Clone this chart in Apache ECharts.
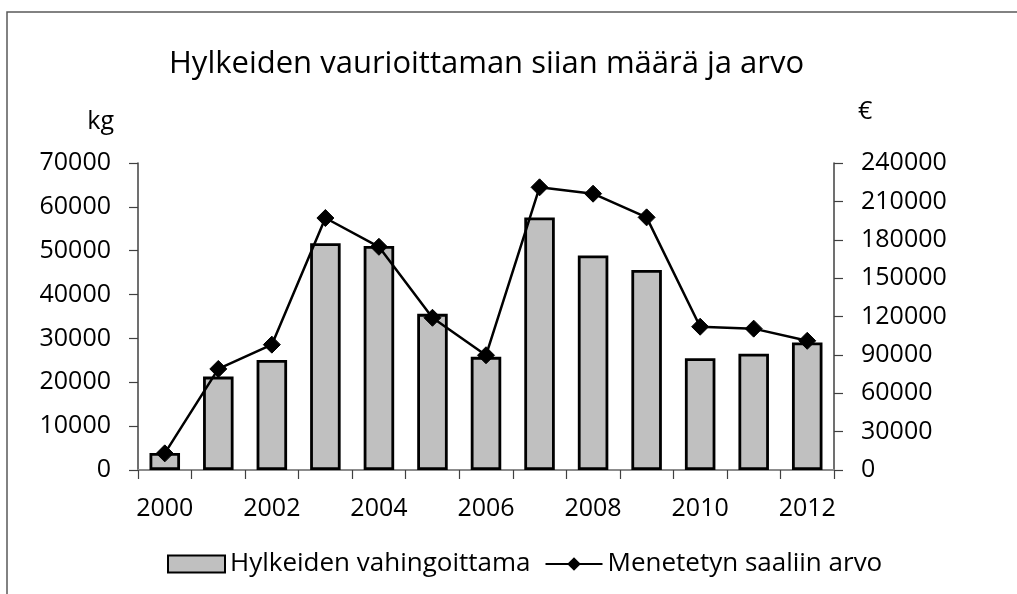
<!DOCTYPE html>
<html><head><meta charset="utf-8">
<script src="https://cdn.jsdelivr.net/npm/echarts@6/dist/echarts.min.js"></script>
<style>html,body{margin:0;padding:0;background:#fff}#c{width:1017px;height:594px}</style>
</head><body><div id="c"></div>
<script>
const years = ['2000','2001','2002','2003','2004','2005','2006','2007','2008','2009','2010','2011','2012'];
const damagedKg = [3900, 21300, 25100, 51700, 51100, 35600, 25800, 57600, 48900, 45600, 25500, 26500, 29100];
const lostValueEur = [13000, 79000, 98000, 197000, 174500, 119000, 89700, 221000, 216000, 197500, 112000, 110500, 101000];
const titleText = 'Hylkeiden vaurioittaman siian määrä ja arvo';
const barName = 'Hylkeiden vahingoittama';
const lineName = 'Menetetyn saaliin arvo';

const FONT = 'Open Sans';
const plain = v => String(v);
const chart = echarts.init(document.getElementById('c'));
chart.setOption({
  animation: false,
  textStyle: {fontFamily: FONT, color: '#000'},
  graphic: [{type: 'rect', shape: {x: 7, y: 12, width: 1200, height: 800}, style: {fill: 'none', stroke: '#595959', lineWidth: 1.5}, silent: true}],
  title: {text: titleText, left: 169, top: 49, padding: 0,
    textStyle: {fontFamily: FONT, fontWeight: 'normal', fontSize: 31, color: '#000'}},
  grid: {left: 138, right: 183, top: 163, bottom: 124, containLabel: false},
  legend: {bottom: 12, left: 162, itemWidth: 57, itemHeight: 17, itemGap: 14,
    textStyle: {fontFamily: FONT, fontSize: 26, color: '#000'},
    data: [{name: barName, icon: 'rect'}, {name: lineName}]},
  xAxis: [{
    type: 'category', data: years, position: 'bottom',
    axisLine: {lineStyle: {color: '#868686', width: 1.5}},
    axisTick: {show: true, interval: 0, alignWithLabel: false, length: 9, lineStyle: {color: '#404040', width: 1.2}},
    axisLabel: {interval: 1, fontSize: 25, color: '#000', margin: 26, fontFamily: FONT}
  }, {
    type: 'category', data: years, position: 'top',
    axisLine: {lineStyle: {color: '#8c8c8c', width: 2}},
    axisTick: {show: false}, axisLabel: {show: false}
  }],
  yAxis: [{
    type: 'value', min: 0, max: 70000, interval: 10000, position: 'left',
    name: 'kg', nameLocation: 'end', nameGap: 41,
    nameTextStyle: {fontFamily: FONT, fontSize: 25, color: '#000', align: 'right', verticalAlign: 'middle', padding: [0, 24, 0, 0]},
    axisLine: {show: true, lineStyle: {color: '#404040', width: 1.5}},
    axisTick: {show: true, length: 9, lineStyle: {color: '#404040', width: 1.2}},
    splitLine: {show: false},
    axisLabel: {fontSize: 25, color: '#000', margin: 27, fontFamily: FONT, formatter: plain}
  }, {
    type: 'value', min: 0, max: 240000, interval: 30000, position: 'right',
    name: '€', nameLocation: 'end', nameGap: 51,
    nameTextStyle: {fontFamily: FONT, fontSize: 25, color: '#000', align: 'left', verticalAlign: 'middle', padding: [0, 0, 0, 24]},
    axisLine: {show: true, lineStyle: {color: '#404040', width: 1.5}},
    axisTick: {show: true, length: 9, lineStyle: {color: '#404040', width: 1.2}},
    splitLine: {show: false},
    axisLabel: {fontSize: 25, color: '#000', margin: 27, fontFamily: FONT, formatter: plain}
  }],
  series: [{
    name: barName, type: 'bar', xAxisIndex: 0, yAxisIndex: 0, data: damagedKg,
    barCategoryGap: '43%',
    itemStyle: {color: '#c0c0c0', borderColor: '#000', borderWidth: 2.8}
  }, {
    name: lineName, type: 'line', xAxisIndex: 0, yAxisIndex: 1, data: lostValueEur,
    symbol: 'diamond', symbolSize: 17, showSymbol: true,
    lineStyle: {color: '#000', width: 2.5},
    itemStyle: {color: '#000', borderColor: '#000'}
  }]
});
</script></body></html>
